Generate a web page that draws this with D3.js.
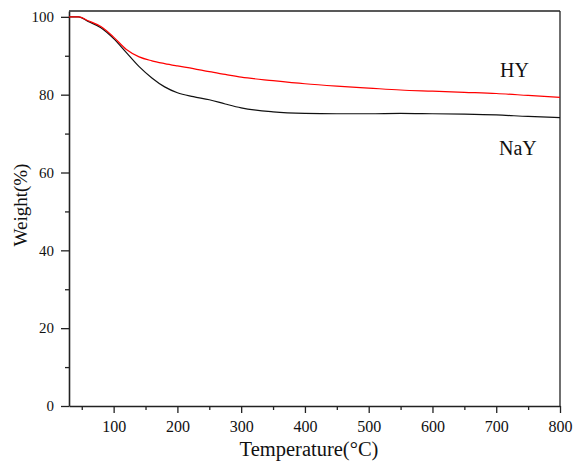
<!DOCTYPE html>
<html>
<head>
<meta charset="utf-8">
<script src="https://cdn.jsdelivr.net/npm/d3@7"></script>
<style>
  html, body { margin: 0; padding: 0; background: #fff; }
  svg { display: block; }
  svg text { font-family: "Liberation Serif", "Times New Roman", "DejaVu Serif", serif !important; }
</style>
</head>
<body>
<svg id="chart" width="575" height="462"></svg>
<script>
// Data
const temps = [30, 45, 60, 80, 100, 120, 140, 160, 180, 200, 225, 250, 275, 300, 350, 400, 450, 500, 550, 600, 650, 700, 750, 800];
const hyWeight = [100, 100, 99.0, 97.5, 94.8, 91.6, 89.7, 88.7, 88.0, 87.4, 86.7, 85.9, 85.2, 84.5, 83.6, 82.8, 82.2, 81.7, 81.2, 80.9, 80.6, 80.3, 79.8, 79.3];
const nayWeight = [100, 100, 98.8, 97.2, 94.4, 90.8, 87.2, 84.3, 82.0, 80.5, 79.5, 78.7, 77.6, 76.6, 75.6, 75.2, 75.1, 75.1, 75.2, 75.1, 75.0, 74.8, 74.4, 74.1];
const xMajor = [100, 200, 300, 400, 500, 600, 700, 800];
const xMinor = [50, 150, 250, 350, 450, 550, 650, 750];
const yMajor = [0, 20, 40, 60, 80, 100];
const yMinor = [10, 30, 50, 70, 90];

const svg = d3.select("#chart");
const plotL = 69, plotR = 560, plotT = 11, plotB = 406;

const x = d3.scaleLinear().domain([30, 800]).range([plotL, plotR]);
const y = d3.scaleLinear().domain([0, 101.5]).range([plotB, plotT]);

const axisColor = "#222";

// X axis
const gx = svg.append("g").attr("transform", `translate(0,${plotB})`);
gx.call(d3.axisBottom(x).tickValues(xMajor).tickSize(7).tickPadding(8).tickSizeOuter(0));
gx.append("g").call(d3.axisBottom(x).tickValues(xMinor).tickSize(4).tickFormat("").tickSizeOuter(0))
  .select(".domain").remove();

// Y axis
const gy = svg.append("g").attr("transform", `translate(${plotL},0)`);
gy.call(d3.axisLeft(y).tickValues(yMajor).tickSize(8).tickPadding(7).tickSizeOuter(0));
gy.append("g").call(d3.axisLeft(y).tickValues(yMinor).tickSize(4).tickFormat("").tickSizeOuter(0))
  .select(".domain").remove();

svg.selectAll(".domain").attr("stroke", axisColor).attr("stroke-width", 1.6);
svg.selectAll(".tick line").attr("stroke", axisColor).attr("stroke-width", 1.3);
gx.attr("font-size", null).attr("font-family", null);
gy.attr("font-size", null).attr("font-family", null);
gx.selectAll(".tick text").style("font-size", "16px").attr("fill", "#111");
gy.selectAll(".tick text").style("font-size", "15px").attr("fill", "#111");

// Frame top and right
svg.append("line").attr("x1", plotL).attr("x2", plotR).attr("y1", plotT).attr("y2", plotT)
  .attr("stroke", axisColor).attr("stroke-width", 1.3);
svg.append("line").attr("x1", plotR).attr("x2", plotR).attr("y1", plotT).attr("y2", plotB)
  .attr("stroke", axisColor).attr("stroke-width", 1.3);

// Curves
const line = d3.line()
  .x((d, i) => x(temps[i]))
  .y(d => y(d))
  .curve(d3.curveMonotoneX);

svg.append("path").datum(nayWeight)
  .attr("d", line).attr("fill", "none").attr("stroke", "#111").attr("stroke-width", 1.2);
svg.append("path").datum(hyWeight)
  .attr("d", line).attr("fill", "none").attr("stroke", "#f00").attr("stroke-width", 1.2);

// Labels
svg.append("text").attr("x", 500).attr("y", 77).style("font-size", "20px").attr("fill", "#111").text("HY");
svg.append("text").attr("x", 499).attr("y", 155).style("font-size", "20px").attr("fill", "#111").text("NaY");

svg.append("text")
  .attr("x", 309).attr("y", 456)
  .attr("text-anchor", "middle").style("font-size", "20.5px").attr("fill", "#111")
  .text("Temperature(\u00B0C)");

svg.append("text")
  .attr("transform", `translate(27,${205}) rotate(-90)`)
  .attr("text-anchor", "middle").style("font-size", "19px").attr("fill", "#111")
  .text("Weight(%)");
</script>
</body>
</html>
